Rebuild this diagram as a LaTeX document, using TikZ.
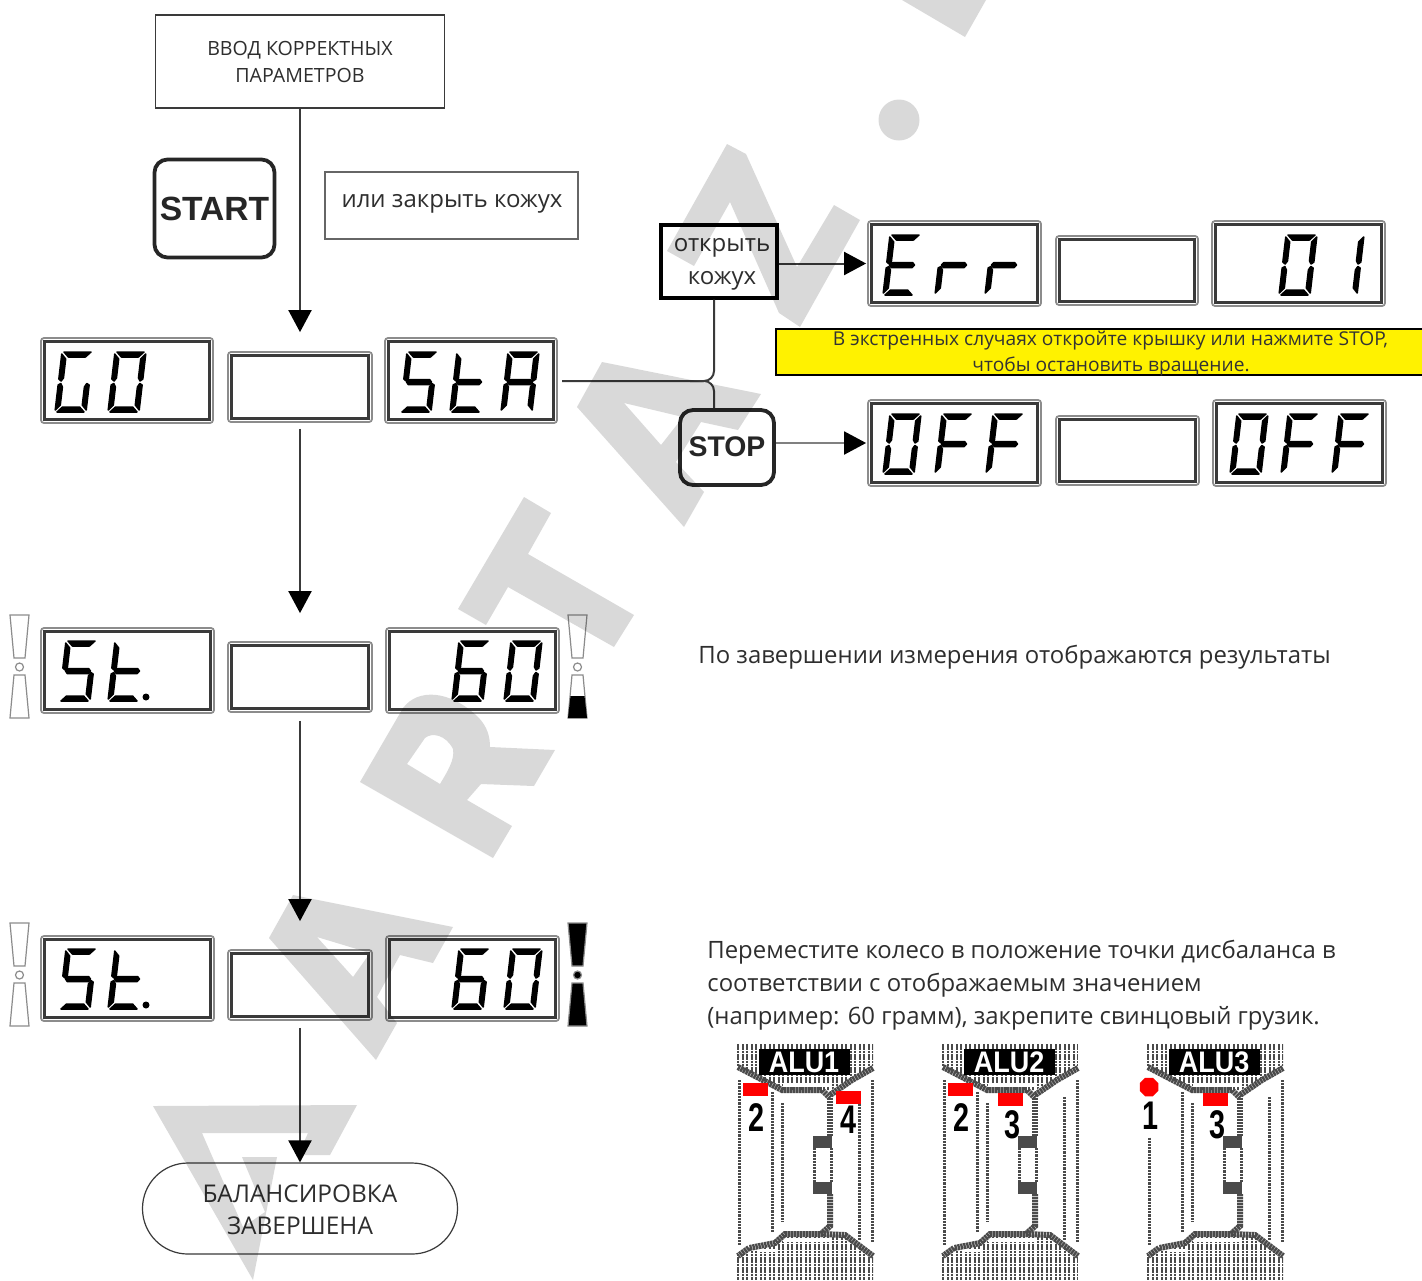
\documentclass[tikz,border=0pt]{standalone}
\usepackage{fontspec}
\usepackage{graphicx}
\setmainfont{Open Sans}
\newfontfamily\lbfont{Liberation Sans}
\usetikzlibrary{arrows.meta,shapes.geometric}
\definecolor{ink}{HTML}{3A3A3A}
\definecolor{txt}{HTML}{2E2E2E}
\definecolor{wgray}{HTML}{4A4A4A}
\definecolor{signy}{HTML}{FFF200}
\tikzset{
  conn/.style={draw=ink,line width=1pt},
  arr/.style={conn,-{Triangle[width=11.5pt,length=11pt,black]}},
  flowbox/.style={draw=ink,line width=0.7pt,fill=white,inner sep=0pt,align=center,text=txt},
  keybox/.style={draw=black!85,line width=1.9pt,fill=white,rounded corners=6.5pt,inner sep=0pt},
  framebig/.style={draw=black!45,line width=0.9pt,rounded corners=1.5pt,fill=white,inner sep=0pt},
  plain/.style={inner sep=0pt,text=txt,anchor=west},
  wm/.style={fill=black,fill opacity=0.15,draw=none},
  hatch/.style={draw=wgray,line width=1pt,dash pattern=on 1.3pt off 0.35pt},
  chain/.style={draw=wgray,line width=3pt,dash pattern=on 1.2pt off 0.3pt},
  dotl/.style={draw=wgray,line width=1.5pt,dash pattern=on 1.1pt off 0.5pt},
  redm/.style={fill=red,draw=none},
  numl/.style={inner sep=0pt,text=black},
}
% frames: [inner width] name, x1,y1,x2,y2
\newcommand{\dispframe}[6][1.1]{%
  \node[framebig,minimum width={(#5-#3)*0.5pt},minimum height={(#6-#4)*0.5pt}] (#2) at ({(#3+#5)/2},{(#4+#6)/2}) {};
  \draw[draw=ink,line width=#1pt] ({#3+3.5},{#4+3.5}) rectangle ({#5-3.5},{#6-3.5});
}
% segments, local 31 x 60
\def\sega{\filldraw (2,0)--(29,0)--(24,5)--(7,5)--cycle;}
\def\segb{\filldraw (31,2)--(31,27)--(28.5,29)--(26.5,26)--(26.5,7)--cycle;}
\def\segc{\filldraw (31,33)--(31,58)--(26.5,53)--(26.5,35)--(28.5,31.5)--cycle;}
\def\segd{\filldraw (7,55)--(24,55)--(29,60)--(2,60)--cycle;}
\def\sege{\filldraw (0,33)--(0,58)--(4.5,53)--(4.5,35)--(2.5,31.5)--cycle;}
\def\segf{\filldraw (0,2)--(0,27)--(2.5,29)--(4.5,26)--(4.5,7)--cycle;}
\def\segg{\filldraw (5,27.7)--(26,27.7)--(28,30)--(26,32.5)--(5,32.5)--(3,30)--cycle;}
\newcommand{\digit}[3]{%
  \begin{scope}[shift={(#1,#2)},xslant=0.117,line width=0.75pt,line join=round]
    \foreach \s in {#3} {\csname seg\s\endcsname}
  \end{scope}}
% indicator: centre x, top y, fill mode
\newcommand{\indic}[3]{%
  \begin{scope}[shift={(#1,#2)}]
    \path[draw=black!45,line width=0.6pt,fill=#3] (-9.5,0)--(9.5,0)--(5.5,43)--(-5.5,43)--cycle;
    \path[draw=black!45,line width=0.6pt,fill=#3] (0,52) circle[radius=4];
    \path[draw=black!45,line width=0.6pt,fill=#3] (-5.5,60)--(5.5,60)--(9.5,103)--(-9.5,103)--cycle;
  \end{scope}}
\newcommand{\wheel}[2]{%
  \begin{scope}[shift={(#1,0)}]
    % tread hatch
    \begin{scope}
      \clip (0,1044)--(136,1044)--(136,1066)--(94,1090)--(44,1090)--(0,1066)--cycle;
      \foreach \h in {1,5.5,...,136} {\draw[hatch] (\h,1044)--(\h,1092);}
    \end{scope}
    \begin{scope}
      \clip (0,1280)--(136,1280)--(136,1256)--(108,1237)--(46,1237)--(36,1246)--(0,1254)--cycle;
      \foreach \h in {1,5.5,...,136} {\draw[hatch] (\h,1234)--(\h,1280);}
    \end{scope}
    \fill[white] (46,1083) rectangle (93,1087);
    \fill[white] (46,1238) rectangle (93,1242);
    \fill[white] (22,1249) rectangle (40,1252);
    \draw[chain] (1,1067)--(22,1078)--(45,1090)--(85,1090)--(93,1098);
    \draw[chain] (136,1068)--(115,1080)--(93,1095);
    \draw[chain] (93,1098)--(93,1136);
    \draw[chain] (93,1194)--(93,1226)--(84,1234)--(48,1234)--(38,1243)--(12,1248)--(1,1256);
    \draw[chain] (84,1234)--(108,1235)--(136,1256);
    \fill[wgray] (76,1136) rectangle (95,1148);
    \fill[wgray] (76,1182) rectangle (95,1194);
    \draw[dotl] (77,1148)--(77,1182);
    \draw[dotl] (94,1148)--(94,1182);
    \draw[dotl] (2,1080)--(2,1245);
    \draw[dotl] (35,1092)--(35,1232);
    \draw[dotl] (45,1103)--(45,1222);
    \draw[dotl] (122,1097)--(122,1240);
    \draw[dotl] (135,1080)--(135,1243);
    \node[fill=black,text=white,inner sep=0pt,minimum width=45.5pt,minimum height=13pt,font={\lbfont\bfseries\fontsize{13.5}{14}\selectfont}] (wl#1) at (67,1062) {\scalebox{1}[1.1]{#2}};
  \end{scope}}
\begin{document}
\begin{tikzpicture}[x=0.5pt,y=-0.5pt]
\useasboundingbox (0,0) rectangle (1422,1280);
\fill[white] (0,0) rectangle (1422,1280);

% displays
\dispframe{aL}{41}{338}{213}{423}
\dispframe[1.4]{aM}{228}{352}{372}{422}
\dispframe{aR}{385}{338}{557}{423}
\dispframe{bL}{41}{628}{214}{713}
\dispframe[1.4]{bM}{228}{642}{372}{712}
\dispframe{bR}{386}{628}{559}{713}
\dispframe{cL}{41}{936}{214}{1021}
\dispframe[1.4]{cM}{228}{950}{372}{1020}
\dispframe{cR}{386}{936}{559}{1021}
\dispframe{eL}{868}{221}{1041}{306}
\dispframe[1.4]{eM}{1056}{236}{1198}{305}
\dispframe{eR}{1212}{221}{1385}{306}
\dispframe{fL}{868}{400}{1041}{486}
\dispframe[1.4]{fM}{1056}{416}{1199}{485}
\dispframe{fR}{1213}{400}{1386}{486}

% digits
\digit{62}{352}{a,c,d,e,f}
\digit{115}{352}{a,b,c,d,e,f}
\digit{407}{352}{a,f,g,c,d}
\digit{457}{352}{d,e,f,g}
\digit{508}{352}{a,b,c,e,f,g}
\foreach \yy in {641,949}{
  \digit{66}{\yy}{a,f,g,c,d}
  \digit{115}{\yy}{d,e,f,g}
  \fill (146,\yy+56) circle[radius=3.5];
  \digit{459}{\yy}{a,f,g,e,c,d}
  \digit{511}{\yy}{a,b,c,d,e,f}
}
\digit{890}{235}{a,f,g,e,d}
\digit{942}{235}{e,g}
\digit{992}{235}{e,g}
\digit{1286}{235}{a,b,c,d,e,f}
\digit{1333}{235}{b,c}
\foreach \xx in {890,1237}{\digit{\xx}{414}{a,b,c,d,e,f}}
\foreach \xx in {942,993,1288,1339}{\digit{\xx}{414}{a,f,g,e}}

% indicators
\indic{19.5}{615}{white}
\indic{19.5}{923}{white}
\indic{577.5}{615}{white}
\fill[black] (568,718)--(587,718)--(584.5,696)--(570.5,696)--cycle;
\indic{577.5}{923}{black}

% flow boxes
\node[flowbox,minimum width=144.5pt,minimum height=46.5pt] (top) at (300,61.5) {};
\node[text=txt,inner sep=0pt,font=\fontsize{9.8}{10}\selectfont] (toptxt1) at (300,50) {ВВОД КОРРЕКТНЫХ};
\node[text=txt,inner sep=0pt,font=\fontsize{9.8}{10}\selectfont] (toptxt2) at (300,75) {ПАРАМЕТРОВ};
\node[keybox,minimum width=60pt,minimum height=49pt] (start) at (214.5,208.5) {};
\node[text=black!85,inner sep=0pt,font={\lbfont\bfseries\fontsize{16.8}{18}\selectfont}] (starttxt) at (214.5,209) {START};
\node[flowbox,draw=black!60,minimum width=126.5pt,minimum height=33.5pt] (orbox) at (451.5,205.5) {};
\node[text=txt,inner sep=0pt,font=\fontsize{12}{12}\selectfont] (ortxt) at (452,204) {или закрыть кожух};
\node[flowbox,draw=black,line width=1.6pt,minimum width=58pt,minimum height=36.5pt] (okoj) at (719,261.5) {};
\node[text=txt,inner sep=0pt,font=\fontsize{12}{12}\selectfont] (oktxt1) at (722,248) {открыть};
\node[text=txt,inner sep=0pt,font=\fontsize{12}{12}\selectfont] (oktxt2) at (722,281) {кожух};
\node[keybox,minimum width=47pt,minimum height=37.5pt] (stop) at (727,447.5) {};
\node[text=black!85,inner sep=0pt,font={\lbfont\bfseries\fontsize{14.2}{14}\selectfont}] (stoptxt) at (727,447) {STOP};
\node[flowbox,rounded corners=22.7pt,line width=0.6pt,minimum width=157.5pt,minimum height=45.5pt] (finish) at (300,1208.5) {};
\node[text=txt,inner sep=0pt,font=\fontsize{12.2}{12}\selectfont] (fin1) at (300,1194) {БАЛАНСИРОВКА};
\node[text=txt,inner sep=0pt,font=\fontsize{12.2}{12}\selectfont] (fin2) at (300,1226) {ЗАВЕРШЕНА};

% yellow note
\node[fill=signy,draw=black,line width=0.6pt,minimum width=330pt,minimum height=23pt,inner sep=0pt] (note) at (1106,352) {};
\node[text=black!80,inner sep=0pt] (note1) at (1110.5,341) {\scalebox{0.857}[0.85]{\fontsize{11.2}{11}\selectfont В экстренных случаях откройте крышку или нажмите STOP,}};
\node[text=black!80,inner sep=0pt] (note2) at (1111,366) {\scalebox{0.857}[0.85]{\fontsize{11.2}{11}\selectfont чтобы остановить вращение.}};

% connectors
\draw[arr,shorten >=9.5pt] (top.south) -- (aM.north);
\draw[arr,shorten <=3pt,shorten >=14pt] (aM.south) -- (bM.north);
\draw[arr,shorten <=4pt,shorten >=14pt] (bM.south) -- (cM.north);
\draw[arr] (cM.south) ++(0,7) coordinate (cgap) (cgap) -- (finish.north);
\coordinate (jn) at (714,381);
\coordinate (staout) at (562,381);
\draw[conn,rounded corners=5pt] (okoj.south -| jn) -- (jn) -- (staout);
\draw[conn,rounded corners=5pt] (stop.north -| jn) -- (jn) -- (690,381);
\draw[arr,shorten >=0.5pt] (okoj.east |- eL.west) -- (eL.west);
\draw[arr,draw=black!50,shorten >=0.5pt] (stop.east |- fL.west) -- (fL.west);

% side texts
\node[plain,font=\fontsize{11.95}{12}\selectfont] (res) at (698,657.5) {По завершении измерения отображаются результаты};
\node[plain,font=\fontsize{11.95}{12}\selectfont] (mv1) at (707,952) {Переместите колесо в положение точки дисбаланса в};
\node[plain,font=\fontsize{11.95}{12}\selectfont] (mv2) at (707,985) {соответствии с отображаемым значением};
\node[plain,font=\fontsize{11.95}{12}\selectfont] (mv3) at (707,1018) {(например: 60 грамм), закрепите свинцовый грузик.};

% wheels
\wheel{737}{ALU1}
\wheel{942}{ALU2}
\wheel{1147}{ALU3}
\fill[redm] (743,1083) rectangle (768,1096);
\fill[redm] (836,1091) rectangle (861,1104);
\fill[redm] (948,1083) rectangle (973,1096);
\fill[redm] (998,1093) rectangle (1023,1106);
\fill[redm] (1203,1093) rectangle (1228,1106);
\fill[white] (1144,1078) rectangle (1154,1137);
\node[regular polygon,regular polygon sides=8,fill=red,inner sep=0pt,minimum size=10pt] (dm) at (1149,1087) {};
\foreach \tx/\ty/\tn/\nm in {756/1118/2/n1,848/1120/4/n2,961/1118/2/n3,1012/1125/3/n4,1150/1116/1/n5,1217/1125/3/n6}{
  \node[numl] (\nm) at (\tx,\ty) {\scalebox{0.9}[1.25]{\lbfont\bfseries\fontsize{16}{16}\selectfont \tn}};
}

% watermark
\path[wm] (727,144)--(746,154)--(797,267)--(834,205)--(860,220)--(800,327)--(779,313)--(730,202)--(694,266)--(667,251)--cycle;
\path[wm] (899,120) circle[radius=20.5];
\path[wm] (902,0)--(986,0)--(965,37)--cycle;
\path[wm,even odd rule] (602,362)--(761,394)--(738,430)--(701,422)--(676,462)--(704,492)--(684,527)--(577,407)--cycle
   (624,403)--(683,417)--(661,445)--cycle;
\path[wm] (524,497)--(551,513)--(528,554)--(634,615)--(614,647)--(508,587)--(486,625)--(458,609)--cycle;
\path[wm,even odd rule] (360,782)--(403,708) .. controls (418,688) and (450,690) .. (478,717) .. controls (488,727) and (490,738) .. (490,747)--(555,750)--(534,786)--(481,784)--(467,800)--(512,826)--(493,858)--cycle
   (407,764)--(425,738) .. controls (432,732) and (446,735) .. (453,749) .. controls (455,760) and (447,772) .. (440,784)--cycle;
\path[wm,even odd rule] (293,895)--(453,927)--(433,963)--(400,955)--(377,997)--(397,1023)--(376,1060)--(269,938)--cycle
   (317,937)--(370,953)--(353,977)--cycle;
\path[wm] (153,1106)--(357,1105)--(330,1155)--(298,1155)--(308,1133)--(202,1133)--(243,1227)--(265,1212)--(242,1157)--(277,1157)--(253,1280)--cycle;
\end{tikzpicture}
\end{document}
